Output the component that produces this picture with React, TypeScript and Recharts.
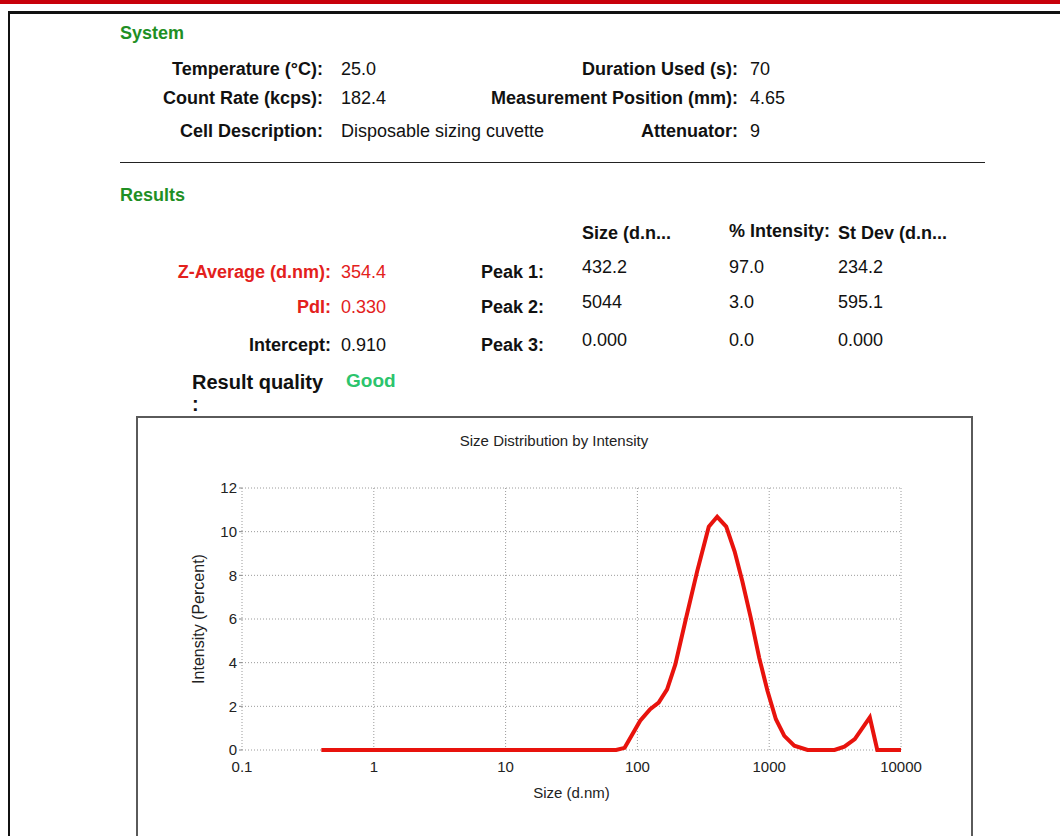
import React from "react";
import { LineChart, Line, XAxis, YAxis, CartesianGrid } from "recharts";

// size distribution (d.nm vs % intensity)
const sizes = [0.4, 69, 80, 105, 125, 145, 168, 194, 231, 284, 348, 403, 472, 547, 626, 725, 840, 971, 1124, 1302, 1550, 1955, 3130, 3720, 4460, 5800, 6610, 10000];
const intensity = [0, 0, 0.1, 1.34, 1.87, 2.17, 2.78, 3.92, 5.9, 8.18, 10.23, 10.68, 10.23, 9.09, 7.72, 6.05, 4.22, 2.7, 1.41, 0.65, 0.2, 0, 0, 0.15, 0.5, 1.49, 0, 0];

const xTicks = [0.1, 1, 10, 100, 1000, 10000];
const yTicks = [0, 2, 4, 6, 8, 10, 12];
const yMinorTicks = [1, 3, 5, 7, 9, 11];
const minorSteps = [2, 3, 4, 5, 6, 7, 8, 9];
const xMinorTicks = xTicks.slice(0, -1).flatMap((d) => minorSteps.map((m) => d * m));

const systemRows = [
  ["Temperature (°C):", "25.0", "Duration Used (s):", "70"],
  ["Count Rate (kcps):", "182.4", "Measurement Position (mm):", "4.65"],
  ["Cell Description:", "Disposable sizing cuvette", "Attenuator:", "9"],
];
const resultLabels = ["Z-Average (d.nm):", "PdI:", "Intercept:"];
const resultValues = ["354.4", "0.330", "0.910"];
const peakNames = ["Peak 1:", "Peak 2:", "Peak 3:"];
const peakSize = ["432.2", "5044", "0.000"];
const peakIntensity = ["97.0", "3.0", "0.0"];
const peakStDev = ["234.2", "595.1", "0.000"];

const data = sizes.map((s, i) => ({ size: s, intensity: intensity[i] }));

const FONT = '"Liberation Sans", Arial, sans-serif';
const GREEN = "#1f8f24";
const RED = "#e3211c";

const abs = (x: number, y: number, extra: React.CSSProperties = {}): React.CSSProperties => ({
  position: "absolute",
  left: x,
  top: y,
  lineHeight: "20px",
  whiteSpace: "nowrap",
  ...extra,
});

// right-aligned label ending at x
const rlab = (x: number, y: number, extra: React.CSSProperties = {}): React.CSSProperties => ({
  position: "absolute",
  right: 1060 - x,
  top: y,
  lineHeight: "20px",
  whiteSpace: "nowrap",
  fontWeight: "bold",
  ...extra,
});

const sysY = [59, 88, 121];
const resY = [262, 297, 335];

export default function App() {
  return (
    <div style={{ position: "absolute", left: 0, top: 0, width: 1060, height: 836, overflow: "hidden", background: "#fff", fontFamily: FONT, fontSize: 18, color: "#111" }}>
      <div style={{ position: "absolute", left: 0, top: 0, width: 1060, height: 4, background: "#c8000a" }} />
      <div style={{ position: "absolute", left: 8, top: 11, width: 1060, height: 900, borderLeft: "2px solid #111", borderTop: "3px solid #111" }} />

      <div style={abs(120, 23, { color: GREEN, fontWeight: "bold", fontSize: 18 })}>System</div>
      {systemRows.map((r, i) => (
        <React.Fragment key={i}>
          <div style={rlab(323, sysY[i])}>{r[0]}</div>
          <div style={abs(341, sysY[i])}>{r[1]}</div>
          <div style={rlab(738, sysY[i])}>{r[2]}</div>
          <div style={abs(750, sysY[i])}>{r[3]}</div>
        </React.Fragment>
      ))}
      <div style={{ position: "absolute", left: 120, top: 162, width: 865, height: 1, background: "#222" }} />

      <div style={abs(120, 185, { color: GREEN, fontWeight: "bold", fontSize: 18 })}>Results</div>
      <div style={abs(582, 223, { fontWeight: "bold" })}>Size (d.n...</div>
      <div style={abs(729, 221, { fontWeight: "bold" })}>% Intensity:</div>
      <div style={abs(838, 223, { fontWeight: "bold" })}>St Dev (d.n...</div>
      {resultLabels.map((l, i) => (
        <React.Fragment key={l}>
          <div style={rlab(331, resY[i], i < 2 ? { color: RED } : {})}>{l}</div>
          <div style={abs(341, resY[i], i < 2 ? { color: RED } : {})}>{resultValues[i]}</div>
          <div style={rlab(544, resY[i])}>{peakNames[i]}</div>
          <div style={abs(582, resY[i] - 5)}>{peakSize[i]}</div>
          <div style={abs(729, resY[i] - 5)}>{peakIntensity[i]}</div>
          <div style={abs(838, resY[i] - 5)}>{peakStDev[i]}</div>
        </React.Fragment>
      ))}
      <div style={abs(192, 372, { fontWeight: "bold", fontSize: 20 })}>Result quality</div>
      <div style={abs(192, 394, { fontWeight: "bold", fontSize: 20 })}>:</div>
      <div style={abs(346, 371, { fontWeight: "bold", fontSize: 19, color: "#2cc46c" })}>Good</div>

      <div style={{ position: "absolute", left: 136, top: 416, width: 833, height: 500, border: "2px solid #5a5a5a", background: "#fff" }} />
      <div style={{ position: "absolute", left: 137, top: 431, width: 834, textAlign: "center", fontSize: 15, color: "#222", lineHeight: "20px" }}>
        Size Distribution by Intensity
      </div>
      <div style={{ position: "absolute", left: 137, top: 417 }}>
        <LineChart width={834} height={419} data={data} margin={{ top: 71, right: 70, bottom: 56, left: 65 }} style={{ fontFamily: FONT }}>
          <CartesianGrid stroke="#9a9a9a" strokeDasharray="1 2" />
          <XAxis
            dataKey="size"
            type="number"
            scale="log"
            domain={[0.1, 10000]}
            ticks={xTicks}
            allowDataOverflow
            axisLine={false}
            tickLine={false}
            height={30}
            tick={{ fill: "#222", fontSize: 15 }}
            tickMargin={5}
            label={{ value: "Size (d.nm)", position: "insideBottom", offset: -18, fill: "#222", fontSize: 15 }}
          />
          <XAxis
            xAxisId="minor"
            dataKey="size"
            type="number"
            scale="log"
            domain={[0.1, 10000]}
            ticks={xMinorTicks}
            allowDataOverflow
            mirror
            height={0}
            axisLine={false}
            tick={false}
            tickLine={{ stroke: "#999" }}
            tickSize={4}
          />
          <YAxis
            type="number"
            domain={[0, 12]}
            ticks={yTicks}
            axisLine={false}
            tickLine={{ stroke: "#888" }}
            tickSize={3}
            width={40}
            tick={{ fill: "#222", fontSize: 15 }}
            label={{ value: "Intensity (Percent)", angle: -90, position: "insideLeft", offset: -4, fill: "#222", fontSize: 16, style: { textAnchor: "middle" } }}
          />
          <YAxis
            yAxisId="minor"
            type="number"
            domain={[0, 12]}
            ticks={yMinorTicks}
            mirror
            width={0}
            axisLine={false}
            tick={false}
            tickLine={{ stroke: "#999" }}
            tickSize={4}
          />
          <Line
            type="linear"
            dataKey="intensity"
            stroke="#e8130d"
            strokeWidth={4}
            dot={false}
            isAnimationActive={false}
          />
        </LineChart>
      </div>
    </div>
  );
}
